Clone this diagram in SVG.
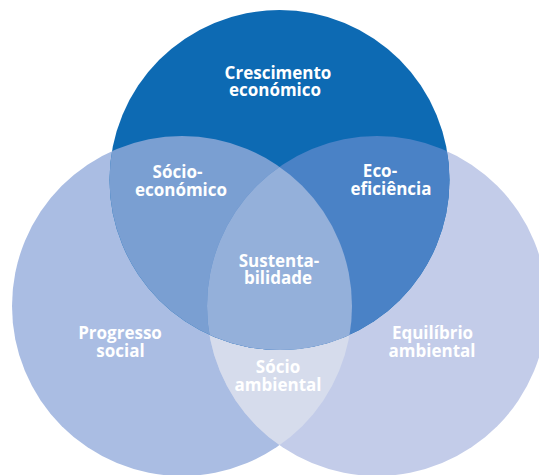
<svg xmlns="http://www.w3.org/2000/svg" width="539" height="475" viewBox="0 0 539 475">
  <style>
    .lbl { font-family: "Open Sans", "Noto Sans", "DejaVu Sans", sans-serif; font-weight: 700; font-size: 17px; fill: #ffffff; text-anchor: middle; }
  </style>
  <defs>
    <circle id="cTop" cx="279.5" cy="180" r="170"/>
    <circle id="cLeft" cx="182" cy="306" r="170"/>
    <circle id="cRight" cx="377" cy="306" r="170"/>
    <clipPath id="clipTop"><use href="#cTop"/></clipPath>
    <clipPath id="clipLeft"><use href="#cLeft"/></clipPath>
    <clipPath id="clipTopLeft" clip-path="url(#clipTop)"><use href="#cLeft"/></clipPath>
  </defs>
  <rect width="539" height="475" fill="#ffffff"/>

  <!-- outer circles and their overlaps -->
  <g id="progresso-social">
    <use href="#cLeft" fill="#aabde3"/>
  </g>
  <g id="equilibrio-ambiental">
    <use href="#cRight" fill="#c3cce9"/>
  </g>
  <g id="socio-ambiental">
    <use href="#cRight" fill="#d6dcec" clip-path="url(#clipLeft)"/>
  </g>
  <g id="crescimento-economico">
    <use href="#cTop" fill="#0d6ab3"/>
  </g>
  <g id="socio-economico">
    <use href="#cLeft" fill="#7a9fd2" clip-path="url(#clipTop)"/>
  </g>
  <g id="eco-eficiencia">
    <use href="#cRight" fill="#4a82c6" clip-path="url(#clipTop)"/>
  </g>
  <g id="sustentabilidade">
    <use href="#cRight" fill="#94b0da" clip-path="url(#clipTopLeft)"/>
  </g>

  <!-- labels, two lines each -->
  <g id="labels">
    <text class="lbl" x="278" y="79">Crescimento<tspan x="275" dy="17">económico</tspan></text>
    <text class="lbl" x="177.5" y="178">Sócio-<tspan x="181" dy="18">económico</tspan></text>
    <text class="lbl" x="380" y="177">Eco-<tspan x="391" dy="18">eficiência</tspan></text>
    <text class="lbl" x="279" y="267">Sustenta-<tspan x="278" dy="17">bilidade</tspan></text>
    <text class="lbl" x="120" y="339">Progresso<tspan x="120.5" dy="18">social</tspan></text>
    <text class="lbl" x="432.5" y="339">Equilíbrio<tspan x="432" dy="18">ambiental</tspan></text>
    <text class="lbl" x="278" y="373">Sócio<tspan x="278" dy="18">ambiental</tspan></text>
  </g>
</svg>
